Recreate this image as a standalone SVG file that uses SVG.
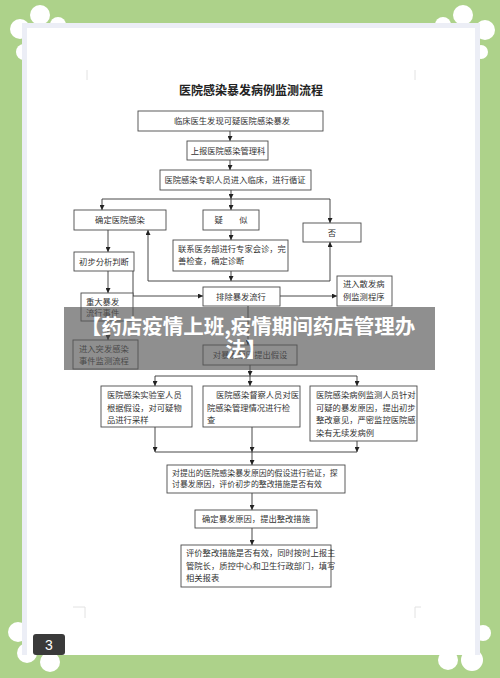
<svg xmlns="http://www.w3.org/2000/svg" width="500" height="678" viewBox="0 0 500 678">
<defs>
<style>
.box{fill:#fff;stroke:#4a4a4a;stroke-width:0.9}
.t{font-family:"Noto Sans CJK SC","Noto Sans CJK JP",sans-serif;font-size:8.3px;fill:#333}
.c{text-anchor:middle}
.ln{fill:none;stroke:#333;stroke-width:0.9}
.circ{fill:#fff}
.mark{stroke:#e2e2e2;stroke-width:1;fill:none}
</style>
<marker id="ah" viewBox="0 0 6 6" refX="6" refY="3" markerWidth="5" markerHeight="5" orient="auto" markerUnits="userSpaceOnUse">
<path d="M0,0 L6,3 L0,6 z" fill="#222"/>
</marker>
</defs>
<rect x="0" y="0" width="500" height="678" fill="#add28a"/>
<g id="decor">
<circle class="circ" cx="40" cy="15" r="10"/>
<circle class="circ" cx="20" cy="29" r="10"/>
<circle class="circ" cx="58" cy="25" r="8"/>
<circle class="circ" cx="24" cy="52" r="8"/>
<circle class="circ" cx="463" cy="15" r="10"/>
<circle class="circ" cx="485" cy="30" r="10"/>
<circle class="circ" cx="443" cy="25" r="8"/>
<circle class="circ" cx="481" cy="52" r="7"/>
<circle class="circ" cx="18" cy="632" r="10"/>
<circle class="circ" cx="27" cy="653" r="10"/>
<circle class="circ" cx="50" cy="662" r="10"/>
<circle class="circ" cx="483" cy="633" r="8"/>
<circle class="circ" cx="472" cy="660" r="11"/>
<circle class="circ" cx="448" cy="660" r="10"/>
<rect x="22" y="23" width="458" height="632" fill="#eceef6"/>
<rect x="27" y="28" width="448" height="627" fill="#fff"/>
<path class="mark" d="M87,70 V80 M415,70 V80 M73,607 H85 V618 M415,618 V607 H421"/>
</g>
<text id="title" x="251" y="95" class="t c" style="font-size:12px;font-weight:bold;fill:#222">医院感染暴发病例监测流程</text>
<g id="connectors">
<path class="ln" marker-end="url(#ah)" d="M230,131 V141"/>
<path class="ln" marker-end="url(#ah)" d="M230,160 V170"/>
<path class="ln" marker-end="url(#ah)" d="M231,190 V199"/>
<path class="ln" d="M102,199 H330"/>
<path class="ln" marker-end="url(#ah)" d="M102,199 V210"/>
<path class="ln" marker-end="url(#ah)" d="M231,199 V210"/>
<path class="ln" marker-end="url(#ah)" d="M330,199 V223"/>
<path class="ln" marker-end="url(#ah)" d="M231,230 V240"/>
<path class="ln" marker-end="url(#ah)" d="M231,271 V281"/>
<path class="ln" d="M148,281 H330"/>
<path class="ln" marker-end="url(#ah)" d="M148,281 V230"/>
<path class="ln" marker-end="url(#ah)" d="M330,281 V242"/>
<path class="ln" marker-end="url(#ah)" d="M108,230 V252"/>
<path class="ln" marker-end="url(#ah)" d="M108,271 V293"/>
<path class="ln" marker-end="url(#ah)" d="M133,271 V296 H203"/>
<path class="ln" marker-end="url(#ah)" d="M280,296 H337"/>
<path class="ln" marker-end="url(#ah)" d="M108,321 V340"/>
<path class="ln" marker-end="url(#ah)" d="M248,306 V345"/>
<path class="ln" marker-end="url(#ah)" d="M250,365 V376"/>
<path class="ln" d="M155,376 H357"/>
<path class="ln" marker-end="url(#ah)" d="M155,376 V386"/>
<path class="ln" marker-end="url(#ah)" d="M250,376 V386"/>
<path class="ln" marker-end="url(#ah)" d="M357,376 V386"/>
<path class="ln" marker-end="url(#ah)" d="M155,427 V452"/>
<path class="ln" marker-end="url(#ah)" d="M252,427 V452"/>
<path class="ln" marker-end="url(#ah)" d="M357,441 V452"/>
<path class="ln" d="M155,452 H357"/>
<path class="ln" marker-end="url(#ah)" d="M252,452 V465"/>
<path class="ln" marker-end="url(#ah)" d="M252,493 V510"/>
<path class="ln" marker-end="url(#ah)" d="M252,528 V545"/>
</g>
<g id="n1"><rect class="box" x="138" y="111" width="185" height="20"/><text class="t c" x="232" y="124">临床医生发现可疑医院感染暴发</text></g>
<g id="n2"><rect class="box" x="187" y="141" width="81" height="19"/><text class="t c" x="228" y="153.5">上报医院感染管理科</text></g>
<g id="n3"><rect class="box" x="160" y="170" width="151" height="20"/><text class="t c" x="235" y="183">医院感染专职人员进入临床，进行循证</text></g>
<g id="n4"><rect class="box" x="74" y="210" width="92" height="20"/><text class="t c" x="120" y="223">确定医院感染</text></g>
<g id="n5"><rect class="box" x="203" y="210" width="56" height="20"/><text class="t c" x="231" y="223">疑　　似</text></g>
<g id="n6"><rect class="box" x="303" y="223" width="58" height="19"/><text class="t c" x="332" y="235.5">否</text></g>
<g id="n7"><rect class="box" x="173" y="240" width="115" height="31"/><text class="t" x="178" y="251.5">联系医务部进行专家会诊，完</text><text class="t" x="178" y="264">善检查，确定诊断</text></g>
<g id="n8"><rect class="box" x="74" y="252" width="60" height="19"/><text class="t c" x="104" y="264.5">初步分析判断</text></g>
<g id="n9"><rect class="box" x="203" y="287" width="77" height="19"/><text class="t c" x="241" y="299.5">排除暴发流行</text></g>
<g id="n10"><rect class="box" x="337" y="276" width="55" height="30"/><text class="t" x="343" y="287">进入散发病</text><text class="t" x="343" y="300">例监测程序</text></g>
<g id="n11"><rect class="box" x="81" y="293" width="52" height="28"/><text class="t" x="86" y="305">重大暴发</text><text class="t" x="86" y="316">流行事件</text></g>
<g id="n12"><rect class="box" x="73" y="340" width="65" height="29"/><text class="t" x="79" y="351.5">进入突发感染</text><text class="t" x="79" y="363.5">事件监测流程</text></g>
<g id="n13"><rect class="box" x="203" y="345" width="94" height="20"/><text class="t c" x="250" y="358">对暴发原因提出假设</text></g>
<g id="n14"><rect class="box" x="101" y="386" width="91" height="41"/><text class="t" x="107" y="398">医院感染实验室人员</text><text class="t" x="107" y="410.5">根据假设，对可疑物</text><text class="t" x="107" y="423">品进行采样</text></g>
<g id="n15"><rect class="box" x="203" y="386" width="97" height="41"/><text class="t" x="216" y="398">医院感染督察人员对医</text><text class="t" x="207" y="410.5">院感染管理情况进行检</text><text class="t" x="207" y="423">查</text></g>
<g id="n16"><rect class="box" x="310" y="386" width="107" height="55"/><text class="t" x="316" y="398">医院感染病例监测人员针对</text><text class="t" x="316" y="410.5">可疑的暴发原因，提出初步</text><text class="t" x="316" y="423">整改意见，严密监控医院感</text><text class="t" x="316" y="435.5">染有无续发病例</text></g>
<g id="n17"><rect class="box" x="167" y="465" width="178" height="28"/><text class="t" x="172" y="475.5" style="font-size:7.9px">对提出的医院感染暴发原因的假设进行验证，探</text><text class="t" x="172" y="487" style="font-size:7.9px">讨暴发原因，评价初步的整改措施是否有效</text></g>
<g id="n18"><rect class="box" x="195" y="510" width="122" height="18"/><text class="t c" x="256" y="522">确定暴发原因，提出整改措施</text></g>
<g id="n19"><rect class="box" x="181" y="545" width="150" height="42"/><text class="t" x="186" y="556">评价整改措施是否有效，同时按时上报主</text><text class="t" x="186" y="568.5">管院长，质控中心和卫生行政部门，填写</text><text class="t" x="186" y="581">相关报表</text></g>
<g id="banner">
<rect x="64" y="307" width="371" height="63" fill="#555" fill-opacity="0.66"/>
<text x="248" y="334" class="c" style="font-family:'Noto Sans CJK SC','Noto Sans CJK JP',sans-serif;font-size:20.5px;font-weight:bold;fill:#fff">【药店疫情上班,疫情期间药店管理办</text>
<text x="246" y="357" class="c" style="font-family:'Noto Sans CJK SC','Noto Sans CJK JP',sans-serif;font-size:20.5px;font-weight:bold;fill:#fff">法】</text>
</g>
<g id="badge">
<rect x="33" y="634" width="32" height="21" rx="3" fill="#3a3a3a"/>
<text x="49" y="650" class="c" style="font-family:'Liberation Sans',sans-serif;font-size:14px;fill:#fff">3</text>
</g>
</svg>
